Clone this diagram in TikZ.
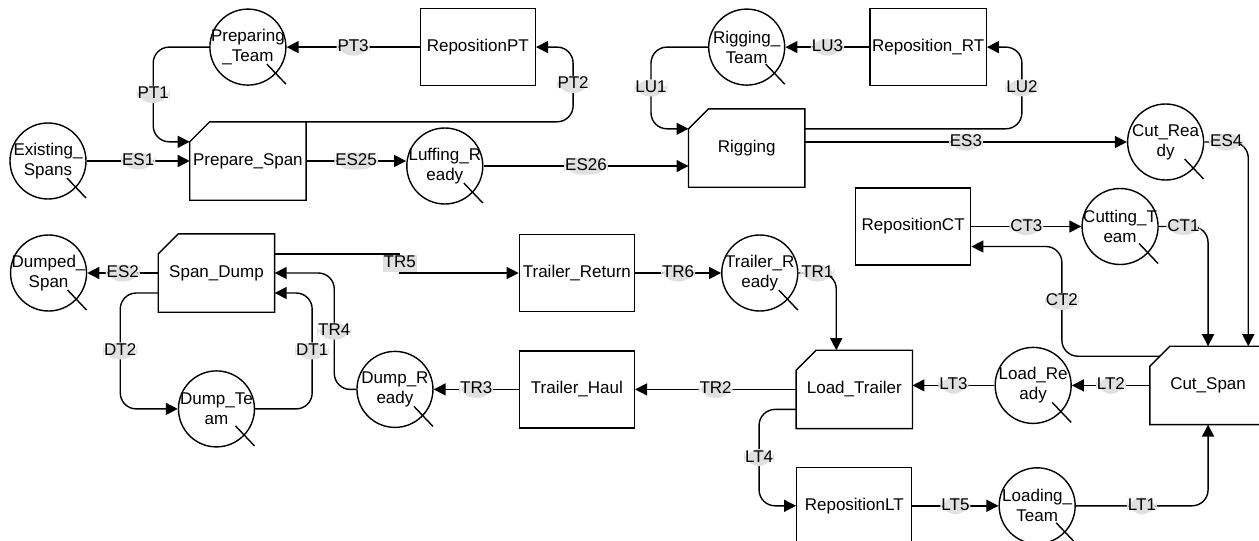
\documentclass[tikz,border=0pt]{standalone}
\usepackage{fontspec}
\setmainfont{Liberation Sans}
\usetikzlibrary{arrows.meta,positioning}
\tikzset{
	activity/.style = {
		draw,
		rectangle,
		minimum width=115pt,
		minimum height=77pt,
		line width=1.4pt,
		inner sep=2pt
	},
	combi/.style = {
		activity,
		draw=none
	},
	queue/.style = {
		draw,
		circle,
		minimum size=76pt,
		inner sep=0pt,
		line width=1.4pt
	},
	flow/.style = {
		-{Triangle[length=12pt,width=12pt]},
		line width=1.4pt,
		rounded corners=16pt
	},
	arclabel/.style = {
		fill=black!12,
		inner sep=1pt,
		text height=12pt,
		text depth=3pt
	},
	every label/.style = {
		align=center
	}
}

\begin{document}
\begin{tikzpicture}[font=\fontsize{17}{20}\selectfont]
		\useasboundingbox (0,0) rectangle (1259pt,-541pt);
		
		% --- Upper part: span preparation and rigging ---
		\node [queue, label=center:{Existing\_\\Spans}] (es) at (48pt,-161pt) {};
		\node [combi, right=103pt of es] (prep) {Prepare\_Span};
		\node [queue, label=center:{Preparing\\\_Team}, above=36pt of prep] (pt) {};
		\node [activity, right=133pt of pt] (rpt) {RepositionPT};
		\node [queue, label=center:{Luffing\_R\\eady}, right=100pt of prep, yshift=-5pt] (luff) {};
		\node [queue, label=center:{Rigging\_\\Team}, right=172pt of rpt] (rt) {};
		\node [activity, right=84pt of rt] (rrt) {Reposition\_RT};
		\node [combi, below=23pt of rt] (rig) {Rigging};
		\node [queue, label=center:{Cut\_Rea\\dy}, right=322pt of rig, yshift=6pt] (cutr) {};
		
		% --- Cutting and loading ---
		\node [activity, below=101pt of rrt, xshift=-15pt] (rct) {RepositionCT};
		\node [queue, label=center:{Cutting\_T\\eam}, right=110pt of rct] (ct) {};
		\node [combi, below=81pt of ct, xshift=88pt] (cut) {Cut\_Span};
		\node [queue, label=center:{Load\_Re\\ady}, left=78pt of cut] (ldr) {};
		\node [combi, left=82pt of ldr, yshift=-4pt] (lt) {Load\_Trailer};
		\node [activity, below=38pt of lt] (rlt) {RepositionLT};
		\node [queue, label=center:{Loading\_\\Team}, right=86pt of rlt] (lteam) {};
		
		% --- Trailer and dumping ---
		\node [activity, left=161pt of lt] (thaul) {Trailer\_Haul};
		\node [queue, label=center:{Dump\_R\\eady}, left=85pt of thaul] (dr) {};
		\node [activity, above=38pt of thaul] (tret) {Trailer\_Return};
		\node [queue, label=center:{Trailer\_R\\eady}, right=86pt of tret] (trr) {};
		\node [combi, left=244pt of tret] (dump) {Span\_Dump};
		\node [queue, label=center:{Dumped\_\\Span}, left=71pt of dump] (dumped) {};
		\node [queue, label=center:{Dump\_Te\\am}, below=58pt of dump] (dteam) {};
		
		% chamfered activities and queue marks
		\foreach \b in {prep,rig,cut,lt,dump}
		\draw [line width=1.4pt] ([yshift=-20pt]\b.north west) -- ([xshift=20pt]\b.north west) -- (\b.north east) -- (\b.south east) -- (\b.south west) -- cycle;
		\foreach \q in {es,pt,luff,rt,cutr,ct,ldr,lteam,trr,dr,dteam,dumped}
		\draw [line width=1.4pt] (\q.center) ++(19pt,-17pt) -- ++(19pt,-20pt);
		
		% --- Arcs ---
		\draw [flow] (es) -- node[arclabel] {ES1} (prep);
		\draw [flow] (prep.east) -- node[arclabel] {ES25} (prep.east -| luff.west);
		\draw [flow] (luff.east) -- node[arclabel] {ES26} (luff.east -| rig.west);
		\draw [flow] (pt.west) -- ++(-56pt,0) |- node[arclabel, pos=0.25] {PT1} ([yshift=-20pt]prep.north west);
		\draw [flow] (prep.north east) -- ++(267pt,0) |- node[arclabel, pos=0.25] {PT2} (rpt.east);
		\draw [flow] (rpt) -- node[arclabel] {PT3} (pt);
		\draw [flow] (rt.west) -- ++(-57pt,0) |- node[arclabel, pos=0.25] {LU1} ([yshift=-20pt]rig.north west);
		\draw [flow] ([yshift=-20pt]rig.north east) -- ++(217pt,0) |- node[arclabel, pos=0.25] {LU2} (rrt.east);
		\draw [flow] (rrt) -- node[arclabel] {LU3} (rt);
		\draw [flow] (rig.east |- cutr) -- node[arclabel] {ES3} (cutr);
		\draw [flow] (cutr.east) -| node[arclabel, pos=0.25] {ES4} ([xshift=-18pt]cut.north east);
		\draw [flow] (rct) -- node[arclabel] {CT3} (ct);
		\draw [flow] (ct.east) -| node[arclabel, pos=0.25] {CT1} (cut.north);
		\draw [flow] ([shift={(10pt,-10pt)}]cut.north west) -- ++(-98pt,0) |- node[arclabel, pos=0.25] {CT2} ([yshift=-20pt]rct.east);
		\draw [flow] (cut) -- node[arclabel] {LT2} (ldr);
		\draw [flow] (ldr) -- node[arclabel] {LT3} (ldr -| lt.east);
		\draw [flow] (lteam.east) -| node[arclabel, pos=0.25] {LT1} (cut.south);
		\draw [flow] (rlt) -- node[arclabel] {LT5} (lteam);
		\draw [flow] ([yshift=-20pt]lt.west) -- ++(-37pt,0) |- node[arclabel, pos=0.25] {LT4} (rlt.west);
		\draw [flow] (trr.east) -| node[arclabel, pos=0.25] {TR1} ([xshift=-18pt]lt.north);
		\draw [flow] (lt) -- node[arclabel] {TR2} (thaul);
		\draw [flow] (thaul) -- node[arclabel] {TR3} (dr);
		\draw [flow] (dr.west) -- ++(-22pt,0) |- node[arclabel, pos=0.25] {TR4} (dump.east);
		\draw [flow] (dteam.east) -- ++(57pt,0) |- node[arclabel, pos=0.25] {DT1} ([yshift=-20pt]dump.east);
		\draw [flow] ([yshift=-20pt]dump.west) -- ++(-38pt,0) |- node[arclabel, pos=0.25] {DT2} (dteam.west);
		\draw [flow] (dump) -- node[arclabel] {ES2} (dumped);
		\draw [flow, sharp corners] ([yshift=-20pt]dump.north east) -- ++(125pt,0) |- node[arclabel, pos=0.25] {TR5} (tret.west);
		\draw [flow] (tret) -- node[arclabel] {TR6} (trr);
		
	\end{tikzpicture}
\end{document}
